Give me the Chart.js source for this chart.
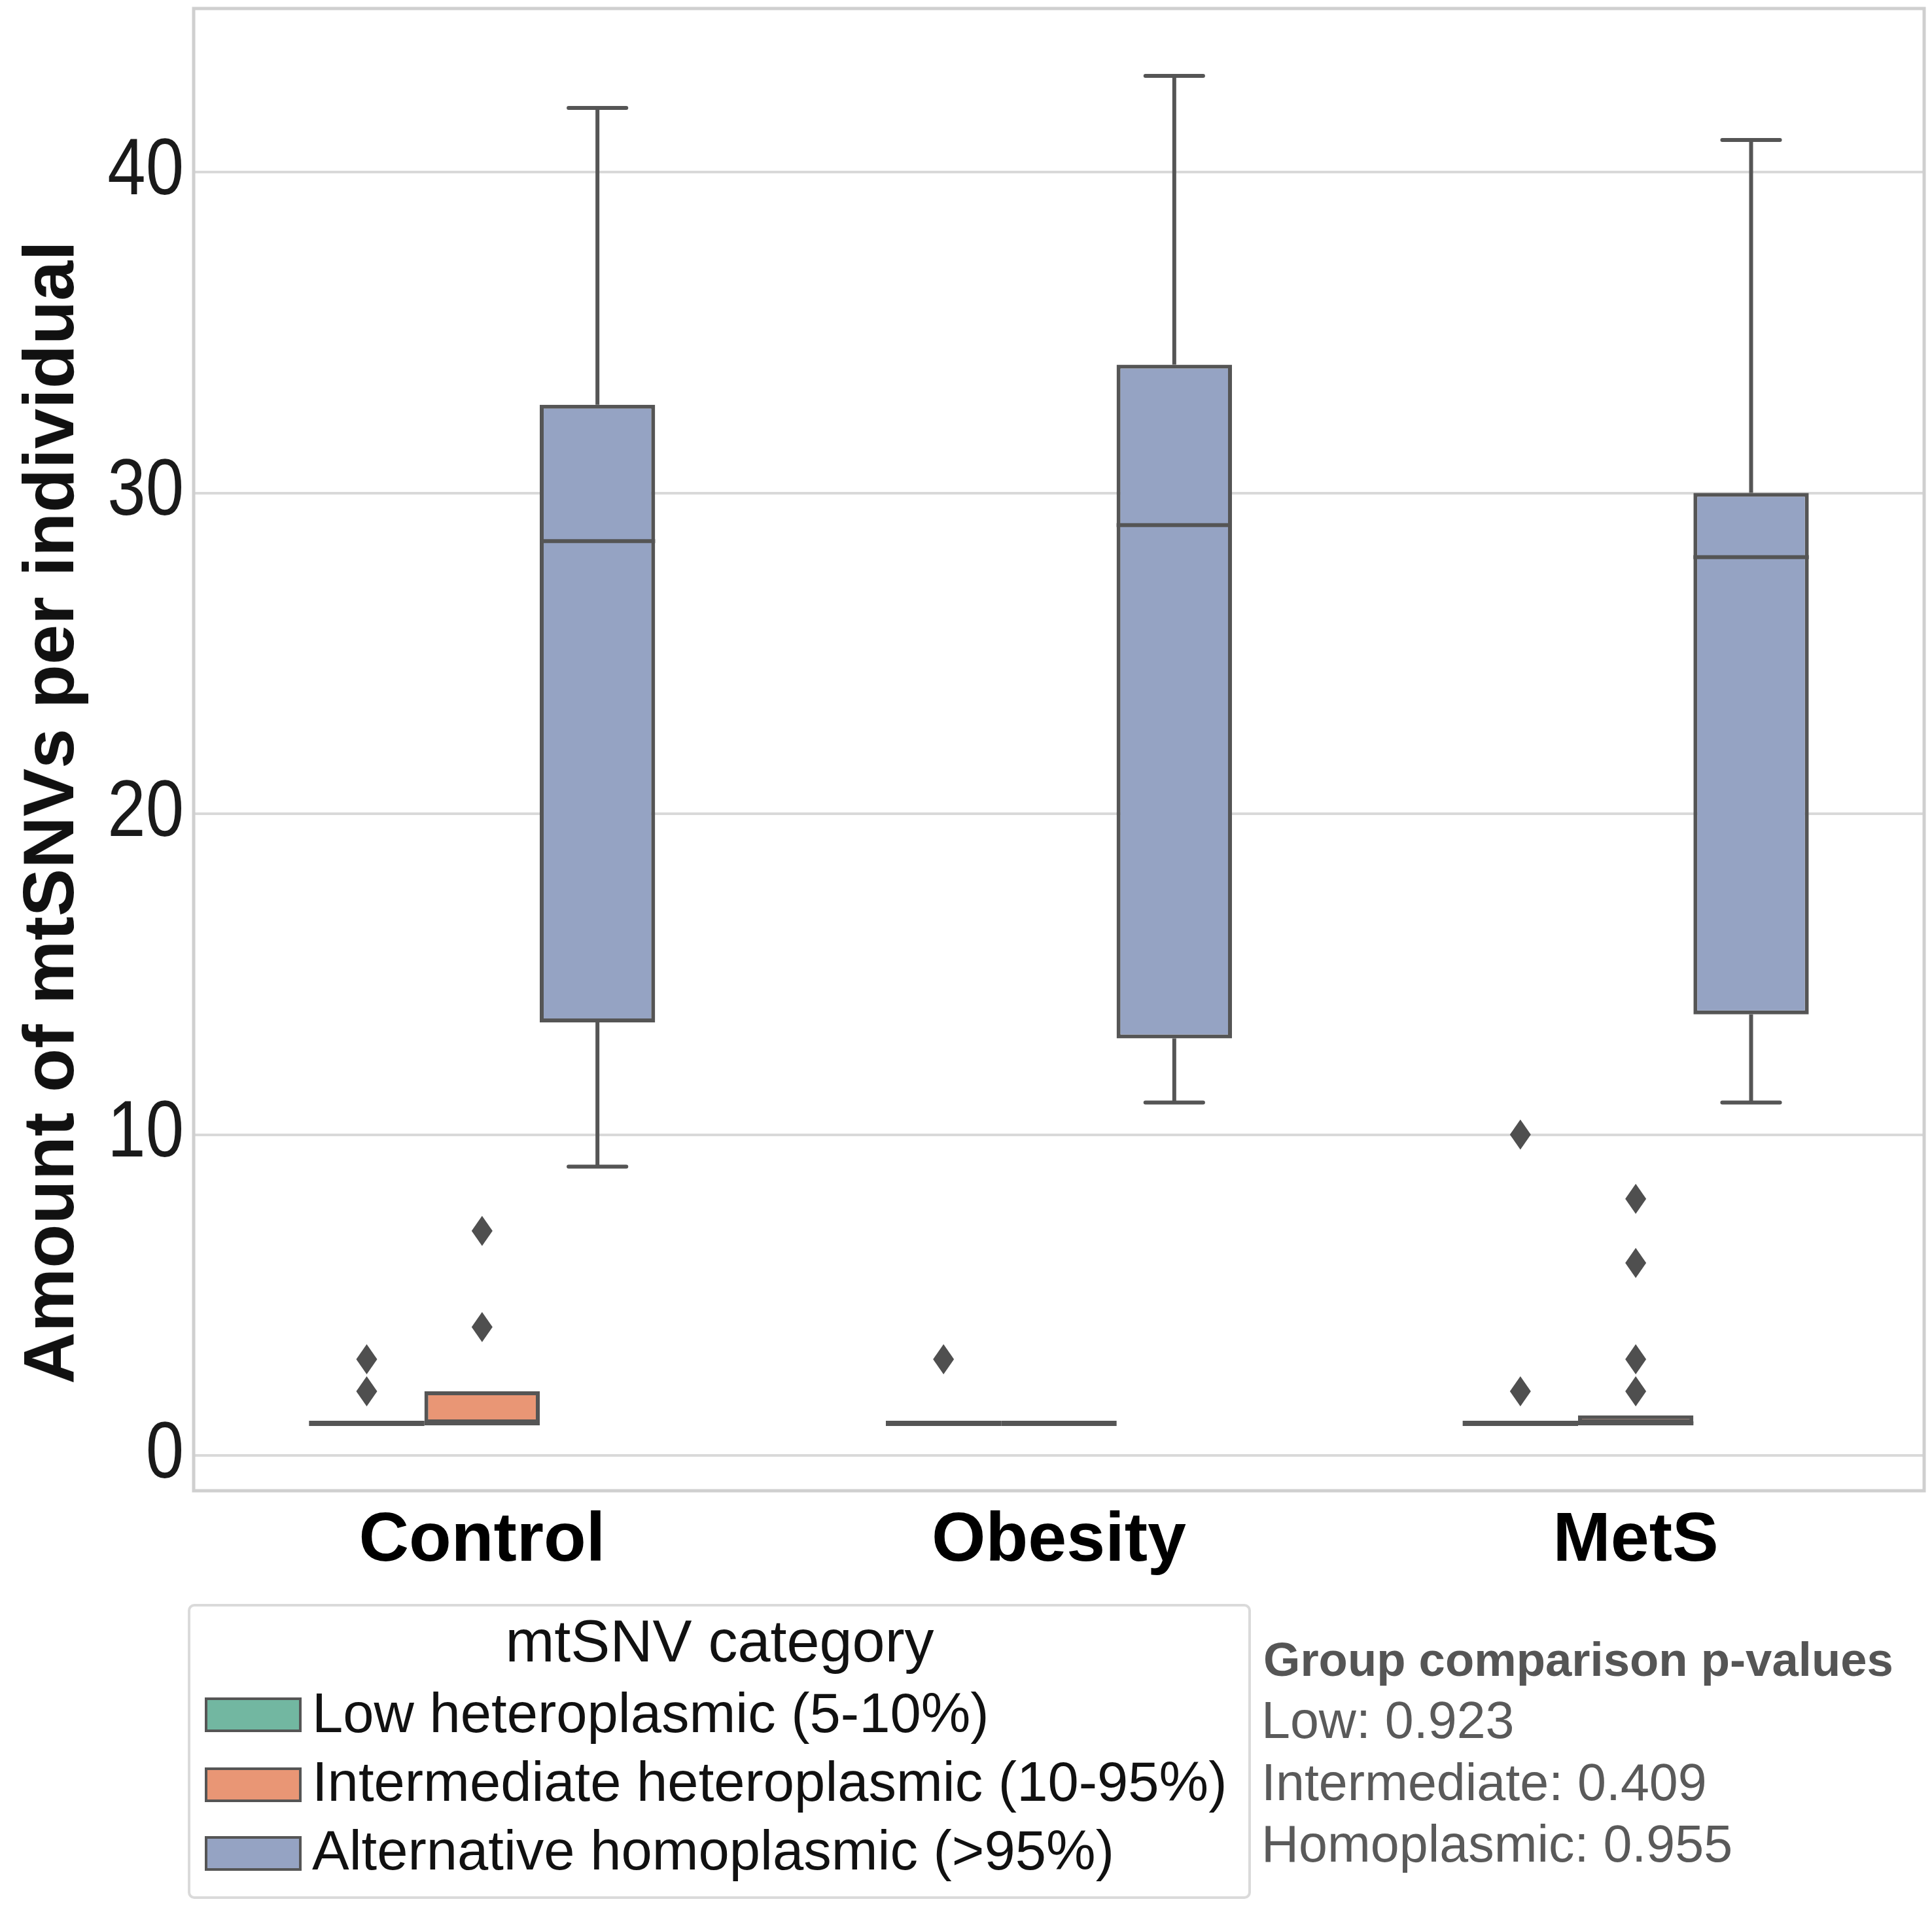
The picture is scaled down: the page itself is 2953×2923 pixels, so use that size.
<!DOCTYPE html>
<html>
<head>
<meta charset="utf-8">
<script src="https://cdn.jsdelivr.net/npm/chart.js@4.4.1/dist/chart.umd.min.js"></script>
<style>
  body { margin: 0; background: #fff; }
  #wrap { position: relative; width: 2953px; height: 2923px; font-family: "Liberation Sans", Arial, sans-serif; }
  #chart { position: absolute; left: 0; top: 0; }
  .txt { position: absolute; white-space: nowrap; line-height: 1; }
  #ytitle { left: 74px; top: 1242px; font-size: 110px; font-weight: bold; color: #111;
            transform: translate(-50%, -50%) rotate(-90deg); }
  #legend { position: absolute; left: 287px; top: 2452px; width: 1617px; height: 443px;
            border: 4px solid #dadada; border-radius: 10px; }
  .patch { position: absolute; left: 313px; width: 140px; height: 45px; border: 4px solid #555; }
</style>
</head>
<body>
<div id="wrap">
  <canvas id="chart" width="2953" height="2923"></canvas>
  <div id="ytitle" class="txt">Amount of mtSNVs per individual</div>
  <div id="legend"></div>
</div>
<script>
const groups = ['Control', 'Obesity', 'MetS'];
const categories = ['Low heteroplasmic (5-10%)', 'Intermediate heteroplasmic (10-95%)', 'Alternative homoplasmic (>95%)'];
const colors = ['#72b7a1', '#e99675', '#95a3c3'];
const yTicks = [0, 10, 20, 30, 40];

// box stats, one entry per group (Control, Obesity, MetS)
const lowQ1 = [1, 1, 1];
const lowMed = [1, 1, 1];
const lowQ3 = [1, 1, 1];
const lowMin = [1, 1, 1];
const lowMax = [1, 1, 1];
const lowOut = [[2, 3], [3], [2, 10]];

const intQ1 = [1, 1, 1];
const intMed = [1, 1, 1];
const intQ3 = [2, 1, 1.25];
const intMin = [1, 1, 1];
const intMax = [2, 1, 1.25];
const intOut = [[4, 7], [], [2, 3, 6, 8]];

const homQ1 = [13.5, 13, 13.75];
const homMed = [28.5, 29, 28];
const homQ3 = [32.75, 34, 30];
const homMin = [9, 11, 11];
const homMax = [42, 43, 41];
const homOut = [[], [], []];

const pLabels = ['Low', 'Intermediate', 'Homoplasmic'];
const pValues = [0.923, 0.409, 0.955];

const stats = [
  { q1: lowQ1, med: lowMed, q3: lowQ3, lo: lowMin, hi: lowMax, out: lowOut },
  { q1: intQ1, med: intMed, q3: intQ3, lo: intMin, hi: intMax, out: intOut },
  { q1: homQ1, med: homMed, q3: homQ3, lo: homMin, hi: homMax, out: homOut },
];

const edge = '#555555';
const font = '"Liberation Sans", Arial, sans-serif';

// whiskers, caps, medians, fliers, frame and the (condensed) y tick labels
const boxParts = {
  id: 'boxParts',
  beforeDatasetsDraw(chart) {
    const { ctx, chartArea: a } = chart;
    ctx.save();
    ctx.strokeStyle = '#cfcfcf';
    ctx.lineWidth = 5;
    ctx.strokeRect(a.left, a.top, a.right - a.left, a.bottom - a.top);
    ctx.restore();
  },
  afterDatasetsDraw(chart) {
    const ctx = chart.ctx;
    const y = chart.scales.y;
    const line = (x1, y1, x2, y2) => { ctx.beginPath(); ctx.moveTo(x1, y1); ctx.lineTo(x2, y2); ctx.stroke(); };
    stats.forEach((s, d) => {
      chart.getDatasetMeta(d).data.forEach((bar, i) => {
        const x = bar.x, w = bar.width;
        ctx.save();
        ctx.strokeStyle = edge;
        ctx.lineWidth = 6;
        ctx.lineCap = 'butt';
        if (s.hi[i] > s.q3[i]) line(x, y.getPixelForValue(s.q3[i]), x, y.getPixelForValue(s.hi[i]));
        if (s.lo[i] < s.q1[i]) line(x, y.getPixelForValue(s.q1[i]), x, y.getPixelForValue(s.lo[i]));
        ctx.lineCap = 'round';
        if (s.hi[i] > s.q3[i]) line(x - w / 4, y.getPixelForValue(s.hi[i]), x + w / 4, y.getPixelForValue(s.hi[i]));
        if (s.lo[i] < s.q1[i]) line(x - w / 4, y.getPixelForValue(s.lo[i]), x + w / 4, y.getPixelForValue(s.lo[i]));
        ctx.lineCap = 'butt';
        ctx.lineWidth = s.q3[i] === s.q1[i] ? 8 : 6;
        const ym = y.getPixelForValue(s.med[i]);
        line(x - w / 2, ym, x + w / 2, ym);
        ctx.fillStyle = '#4f4f4f';
        s.out[i].forEach(v => {
          const yp = y.getPixelForValue(v);
          ctx.beginPath();
          ctx.moveTo(x, yp - 23);
          ctx.lineTo(x + 16, yp);
          ctx.lineTo(x, yp + 23);
          ctx.lineTo(x - 16, yp);
          ctx.closePath();
          ctx.fill();
        });
        ctx.restore();
      });
    });
  },
  afterDraw(chart) {
    const ctx = chart.ctx;
    const y = chart.scales.y;
    ctx.save();
    ctx.font = '122px ' + font;
    ctx.fillStyle = '#1a1a1a';
    ctx.textAlign = 'right';
    ctx.textBaseline = 'middle';
    y.ticks.forEach(t => {
      ctx.save();
      ctx.translate(y.right - 15, y.getPixelForValue(t.value));
      ctx.scale(0.86, 1);
      ctx.fillText(String(t.value), 0, 0);
      ctx.restore();
    });
    ctx.restore();
  }
};

new Chart(document.getElementById('chart'), {
  type: 'bar',
  data: {
    labels: groups,
    datasets: categories.map((c, d) => ({
      label: c,
      data: groups.map((g, i) => [stats[d].q1[i], stats[d].q3[i]]),
      backgroundColor: colors[d],
      borderColor: edge,
      borderWidth: 6,
      borderSkipped: false,
      categoryPercentage: 0.6,
      barPercentage: 1,
    })),
  },
  options: {
    responsive: false,
    devicePixelRatio: 1,
    animation: false,
    layout: { padding: { top: 13, right: 12, left: 0, bottom: 0 } },
    plugins: { legend: { display: false }, tooltip: { enabled: false } },
    scales: {
      x: {
        grid: { display: false },
        border: { display: false },
        ticks: { color: '#000', font: { family: font, size: 106, weight: 'bold' }, padding: 6 },
        afterFit(s) { s.height = 644; s.paddingLeft = 0; s.paddingRight = 0; },
      },
      y: {
        min: -1.1,
        max: 45.1,
        afterBuildTicks(s) { s.ticks = yTicks.map(v => ({ value: v })); },
        grid: { color: '#d9d9d9', lineWidth: 4, drawTicks: false },
        border: { display: false },
        ticks: { display: false },
        afterFit(s) { s.width = 296; s.paddingTop = 0; s.paddingBottom = 0; },
      },
    },
  },
  plugins: [boxParts],
});

// legend and p-value block
const wrap = document.getElementById('wrap');
const addText = (text, left, baseline, size, opts = {}) => {
  const el = document.createElement('div');
  el.className = 'txt';
  el.textContent = text;
  el.style.fontSize = size + 'px';
  el.style.left = left + 'px';
  el.style.top = (baseline - 0.8465 * size) + 'px';
  el.style.color = opts.color || '#111';
  if (opts.bold) el.style.fontWeight = 'bold';
  if (opts.center) el.style.transform = 'translateX(-50%)';
  wrap.appendChild(el);
  return el;
};
addText('mtSNV category', 1100, 2540, 90, { center: true });
const itemBase = [2648, 2753, 2858];
const patchTop = [2595, 2702, 2807];
categories.forEach((c, d) => {
  const p = document.createElement('div');
  p.className = 'patch';
  p.style.top = patchTop[d] + 'px';
  p.style.background = colors[d];
  wrap.appendChild(p);
  addText(c, 477, itemBase[d], 85);
});
addText('Group comparison p-values', 1931, 2562, 72.5, { bold: true, color: '#555' });
const pBase = [2657, 2752, 2846];
pLabels.forEach((l, i) => addText(l + ': ' + pValues[i].toFixed(3), 1928, pBase[i], 79, { color: '#5a5a5a' }));
</script>
</body>
</html>
